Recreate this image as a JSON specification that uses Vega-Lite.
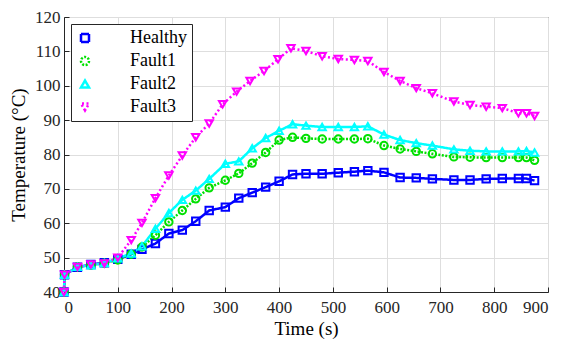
{
  "$schema": "https://vega.github.io/schema/vega-lite/v6.json",
  "width": 484,
  "height": 275,
  "autosize": "none",
  "padding": {"left": 64, "top": 17, "right": 17, "bottom": 50},
  "config": {
    "font": "Liberation Serif",
    "view": {"stroke": "#262626", "strokeWidth": 1},
    "axis": {
      "labelFont": "Liberation Serif", "labelFontSize": 17, "labelColor": "#262626",
      "titleFont": "Liberation Serif", "titleFontSize": 19, "titleFontWeight": "normal", "titleColor": "#000000",
      "gridColor": "#dedede", "gridWidth": 1, "domainColor": "#262626", "tickColor": "#262626",
      "tickSize": -5
    },
    "legend": {"labelFont": "Liberation Serif"}
  },
  "datasets": {
    "temps": [
      {"t":0,"series":"Healthy","v":40},{"t":1,"series":"Healthy","v":45},{"t":25,"series":"Healthy","v":47.2},{"t":50,"series":"Healthy","v":48.0},{"t":75,"series":"Healthy","v":48.5},{"t":100,"series":"Healthy","v":49.5},{"t":125,"series":"Healthy","v":51.0},{"t":145,"series":"Healthy","v":52.4},{"t":170,"series":"Healthy","v":54.1},{"t":195,"series":"Healthy","v":57.0},{"t":220,"series":"Healthy","v":58.0},{"t":245,"series":"Healthy","v":60.6},{"t":270,"series":"Healthy","v":63.7},{"t":300,"series":"Healthy","v":64.7},{"t":325,"series":"Healthy","v":67.3},{"t":350,"series":"Healthy","v":68.9},{"t":375,"series":"Healthy","v":70.5},{"t":400,"series":"Healthy","v":72.2},{"t":425,"series":"Healthy","v":74.2},{"t":450,"series":"Healthy","v":74.4},{"t":480,"series":"Healthy","v":74.4},{"t":510,"series":"Healthy","v":74.7},{"t":540,"series":"Healthy","v":75.0},{"t":565,"series":"Healthy","v":75.3},{"t":595,"series":"Healthy","v":74.8},{"t":625,"series":"Healthy","v":73.3},{"t":655,"series":"Healthy","v":73.2},{"t":685,"series":"Healthy","v":72.9},{"t":725,"series":"Healthy","v":72.6},{"t":755,"series":"Healthy","v":72.6},{"t":785,"series":"Healthy","v":72.9},{"t":815,"series":"Healthy","v":73.0},{"t":845,"series":"Healthy","v":73.0},{"t":860,"series":"Healthy","v":73.0},{"t":875,"series":"Healthy","v":72.4},
      {"t":0,"series":"Fault1","v":40},{"t":1,"series":"Fault1","v":45},{"t":25,"series":"Fault1","v":47.3},{"t":50,"series":"Fault1","v":47.8},{"t":75,"series":"Fault1","v":48.4},{"t":100,"series":"Fault1","v":49.3},{"t":125,"series":"Fault1","v":51.0},{"t":145,"series":"Fault1","v":53.1},{"t":170,"series":"Fault1","v":56.5},{"t":195,"series":"Fault1","v":60.4},{"t":220,"series":"Fault1","v":63.7},{"t":245,"series":"Fault1","v":67.1},{"t":270,"series":"Fault1","v":70.3},{"t":300,"series":"Fault1","v":72.5},{"t":325,"series":"Fault1","v":74.5},{"t":350,"series":"Fault1","v":77.5},{"t":375,"series":"Fault1","v":80.6},{"t":400,"series":"Fault1","v":84.2},{"t":425,"series":"Fault1","v":85.0},{"t":450,"series":"Fault1","v":84.7},{"t":480,"series":"Fault1","v":84.5},{"t":510,"series":"Fault1","v":84.5},{"t":540,"series":"Fault1","v":84.5},{"t":565,"series":"Fault1","v":84.6},{"t":595,"series":"Fault1","v":82.6},{"t":625,"series":"Fault1","v":81.6},{"t":655,"series":"Fault1","v":80.9},{"t":685,"series":"Fault1","v":80.2},{"t":725,"series":"Fault1","v":79.3},{"t":755,"series":"Fault1","v":79.2},{"t":785,"series":"Fault1","v":79.1},{"t":815,"series":"Fault1","v":79.1},{"t":845,"series":"Fault1","v":79.1},{"t":860,"series":"Fault1","v":79.1},{"t":875,"series":"Fault1","v":78.3},
      {"t":0,"series":"Fault2","v":40},{"t":1,"series":"Fault2","v":45},{"t":25,"series":"Fault2","v":47.3},{"t":50,"series":"Fault2","v":47.8},{"t":75,"series":"Fault2","v":48.4},{"t":100,"series":"Fault2","v":49.8},{"t":125,"series":"Fault2","v":51.2},{"t":145,"series":"Fault2","v":53.3},{"t":170,"series":"Fault2","v":58.4},{"t":195,"series":"Fault2","v":63.0},{"t":220,"series":"Fault2","v":66.8},{"t":245,"series":"Fault2","v":69.5},{"t":270,"series":"Fault2","v":72.9},{"t":300,"series":"Fault2","v":77.3},{"t":325,"series":"Fault2","v":78.0},{"t":350,"series":"Fault2","v":81.8},{"t":375,"series":"Fault2","v":84.8},{"t":400,"series":"Fault2","v":86.9},{"t":425,"series":"Fault2","v":88.8},{"t":450,"series":"Fault2","v":88.4},{"t":480,"series":"Fault2","v":88.0},{"t":510,"series":"Fault2","v":88.0},{"t":540,"series":"Fault2","v":88.0},{"t":565,"series":"Fault2","v":88.2},{"t":595,"series":"Fault2","v":85.8},{"t":625,"series":"Fault2","v":84.2},{"t":655,"series":"Fault2","v":83.3},{"t":685,"series":"Fault2","v":82.6},{"t":725,"series":"Fault2","v":81.5},{"t":755,"series":"Fault2","v":81.1},{"t":785,"series":"Fault2","v":80.9},{"t":815,"series":"Fault2","v":80.9},{"t":845,"series":"Fault2","v":80.9},{"t":860,"series":"Fault2","v":81.0},{"t":875,"series":"Fault2","v":80.6},
      {"t":0,"series":"Fault3","v":40},{"t":1,"series":"Fault3","v":45},{"t":25,"series":"Fault3","v":47.3},{"t":50,"series":"Fault3","v":48.0},{"t":75,"series":"Fault3","v":48.3},{"t":100,"series":"Fault3","v":50.0},{"t":125,"series":"Fault3","v":55.1},{"t":145,"series":"Fault3","v":60.1},{"t":170,"series":"Fault3","v":67.3},{"t":195,"series":"Fault3","v":73.9},{"t":220,"series":"Fault3","v":79.7},{"t":245,"series":"Fault3","v":85.0},{"t":270,"series":"Fault3","v":89.0},{"t":295,"series":"Fault3","v":94.6},{"t":321,"series":"Fault3","v":98.3},{"t":346,"series":"Fault3","v":101.4},{"t":372,"series":"Fault3","v":104.3},{"t":398,"series":"Fault3","v":107.7},{"t":422,"series":"Fault3","v":110.9},{"t":450,"series":"Fault3","v":110.1},{"t":480,"series":"Fault3","v":108.6},{"t":510,"series":"Fault3","v":107.8},{"t":540,"series":"Fault3","v":107.5},{"t":565,"series":"Fault3","v":107.2},{"t":595,"series":"Fault3","v":104.0},{"t":625,"series":"Fault3","v":101.4},{"t":655,"series":"Fault3","v":99.3},{"t":685,"series":"Fault3","v":97.8},{"t":725,"series":"Fault3","v":95.4},{"t":755,"series":"Fault3","v":94.4},{"t":785,"series":"Fault3","v":93.9},{"t":815,"series":"Fault3","v":93.5},{"t":845,"series":"Fault3","v":92.0},{"t":860,"series":"Fault3","v":92.0},{"t":875,"series":"Fault3","v":91.2}
    ]
  },
  "data": {"name": "temps"},
  "encoding": {
    "x": {"field": "t", "type": "quantitative", "title": "Time (s)",
      "scale": {"domain": [0, 900], "nice": false, "zero": false},
      "axis": {"values": [0,100,200,300,400,500,600,700,800,900], "grid": true, "labelPadding": 12, "titlePadding": 4, "titleFontWeight": "normal"}},
    "y": {"field": "v", "type": "quantitative", "title": "Temperature (°C)",
      "scale": {"domain": [40, 120], "nice": false, "zero": false},
      "axis": {"values": [40,50,60,70,80,90,100,110,120], "grid": true, "labelPadding": 9, "titlePadding": 6, "titleFontWeight": "normal"}},
    "color": {"field": "series", "type": "nominal",
      "scale": {"domain": ["Healthy","Fault1","Fault2","Fault3"], "range": ["#0000ff","#00e000","#00ffff","#ff00ff"]},
      "legend": {"title": null, "orient": "top-left", "offset": 7, "labelFontSize": 18, "labelFont": "Liberation Serif", "labelColor": "#000000",
        "strokeColor": "#262626", "fillColor": "#ffffff", "padding": 5, "rowPadding": 5, "symbolSize": 64, "symbolStrokeWidth": 2.5,
        "symbolFillColor": "transparent", "labelOffset": 36}
    }
  },
  "layer": [
    {
      "mark": {"type": "line", "strokeWidth": 2.5},
      "encoding": {
        "strokeDash": {"field": "series", "type": "nominal",
          "scale": {"domain": ["Healthy","Fault1","Fault2","Fault3"], "range": [[1,0],[2,1.5],[1,0],[2,2.5]]}, "legend": null},
        "strokeOpacity": {"field": "series", "type": "nominal",
          "scale": {"domain": ["Healthy","Fault1","Fault2","Fault3"], "range": [1,1,0.35,1]}, "legend": null}
      }
    },
    {
      "mark": {"type": "point", "filled": false, "strokeWidth": 2, "size": 55, "opacity": 1},
      "encoding": {
        "shape": {"field": "series", "type": "nominal",
          "scale": {"domain": ["Healthy","Fault1","Fault2","Fault3"], "range": ["square","circle","triangle-up","triangle-down"]}, "legend": null}
      }
    }
  ]
}
